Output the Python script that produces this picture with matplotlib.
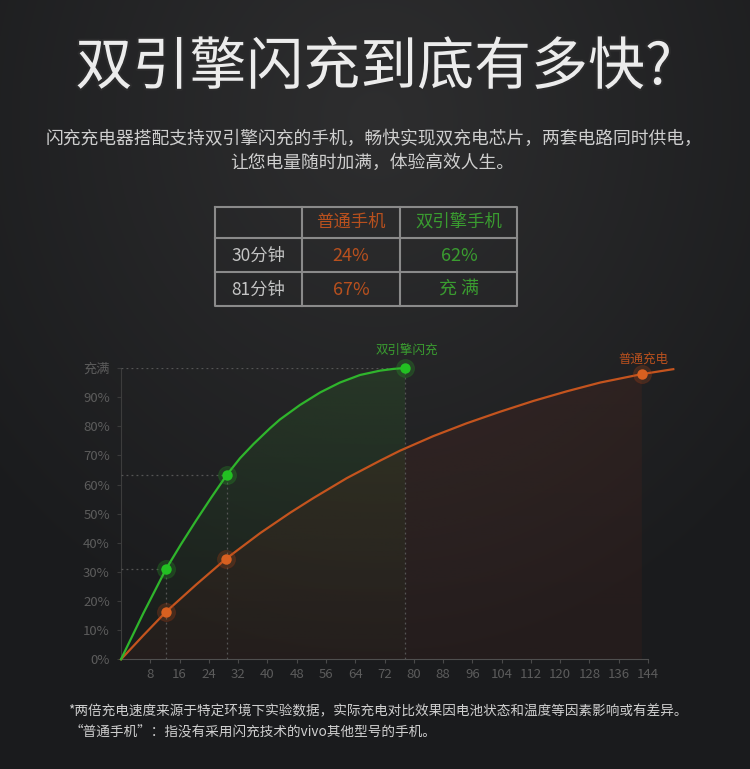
import numpy as np
import matplotlib
matplotlib.use("Agg")
import matplotlib.pyplot as plt
import matplotlib.patheffects as pe
from matplotlib.colors import to_rgb

plt.rcParams['font.family'] = ['Noto Sans CJK SC', 'DejaVu Sans']

# charge curves (minutes, percent)
fast_min = [0, 6.1, 12.3, 16.4, 20.5, 24.7, 28.9, 32.5, 36.2, 40.7, 43.4, 48.9,
            54.4, 59.8, 65.3, 70.8, 74.5, 77.6]
fast_pct = [0, 15.8, 31.0, 39.5, 47.6, 55.6, 63.3, 69.0, 73.9, 79.3, 82.3, 87.3,
            91.6, 95.0, 97.6, 99.1, 99.7, 100]
normal_min = [0, 6.1, 12.3, 20.5, 28.7, 38.0, 46.2, 52.5, 61.7, 70.8, 76.2, 85.3,
              94.4, 103.6, 112.7, 121.8, 130.9, 142.3, 150.9]
normal_pct = [0, 8.2, 16.3, 25.6, 34.5, 43.3, 50.3, 55.3, 62.2, 68.2, 71.6, 76.6,
              81.0, 85.0, 88.7, 92.0, 95.0, 97.9, 99.6]

fast_pts_min = [12.3, 28.9, 77.6]
fast_pts_pct = [31.0, 63.3, 100]
normal_pts_min = [12.3, 28.7, 142.3]
normal_pts_pct = [16.3, 34.5, 97.9]

x_ticks = list(range(8, 145, 8))
y_ticks = [0, 10, 20, 30, 40, 50, 60, 70, 80, 90, 100]
y_labels = ['0%', '10%', '20%', '30%', '40%', '50%', '60%', '70%', '80%', '90%', '充满']

table_head = ['普通手机', '双引擎手机']
table_rows = ['30分钟', '81分钟']
table_normal = ['24%', '67%']
table_fast = ['62%', '充 满']

GREEN = '#2fb52c'
GREEN_TXT = '#3a9c30'
ORANGE = '#c4541e'
ORANGE_TXT = '#b8501e'
GRAY_TXT = '#cfcfcf'

fig = plt.figure(figsize=(7.5, 7.69), dpi=100)

# background with a soft light spot near the top
bg = fig.add_axes([0, 0, 1, 1])
yy, xx = np.mgrid[0:769, 0:750]
d = np.sqrt(((xx - 375) / 520.0) ** 2 + ((yy - 120) / 560.0) ** 2)
d = np.clip(d, 0, 1)
c_in = np.array(to_rgb('#2e2e2f'))
c_out = np.array(to_rgb('#1a1b1d'))
img = c_in[None, None, :] * (1 - d[..., None]) + c_out[None, None, :] * d[..., None]
bg.imshow(img, extent=[0, 750, 769, 0], aspect='auto')
bg.set_xlim(0, 750)
bg.set_ylim(769, 0)
bg.axis('off')

# title and intro text (thin the glyphs with a background-coloured stroke)
bg.text(374, 68, '双引擎闪充到底有多快?', color='#ececec', fontsize=41,
        ha='center', va='center',
        path_effects=[pe.withStroke(linewidth=3, foreground='#2b2b2c')])
bg.text(374, 139, '闪充充电器搭配支持双引擎闪充的手机，畅快实现双充电芯片，两套电路同时供电，',
        color=GRAY_TXT, fontsize=12.8, ha='center', va='center')
bg.text(372, 163, '让您电量随时加满，体验高效人生。',
        color=GRAY_TXT, fontsize=12.8, ha='center', va='center')

# comparison table
tl, tr, tt, tb = 215, 517, 207, 306
col_x = [302, 400]
row_y = [238, 272]
lc = '#8a8a8a'
bg.plot([tl, tr, tr, tl, tl], [tt, tt, tb, tb, tt], color=lc, lw=1.5)
for cx in col_x:
    bg.plot([cx, cx], [tt, tb], color=lc, lw=1.5)
for ry in row_y:
    bg.plot([tl, tr], [ry, ry], color=lc, lw=1.5)
bg.text(351, 222, table_head[0], color=ORANGE_TXT, fontsize=12.5, ha='center', va='center')
bg.text(459, 222, table_head[1], color=GREEN_TXT, fontsize=12.5, ha='center', va='center')
for i, yc in enumerate([256, 290]):
    bg.text(258, yc, table_rows[i], color='#c4c4c4', fontsize=12.5, ha='center', va='center')
    bg.text(351, yc, table_normal[i], color=ORANGE_TXT, fontsize=13, ha='center', va='center')
    bg.text(459, yc, table_fast[i], color=GREEN_TXT, fontsize=13, ha='center', va='center')

# footnotes
bg.text(68, 711, '*两倍充电速度来源于特定环境下实验数据，实际充电对比效果因电池状态和温度等因素影响或有差异。',
        color=GRAY_TXT, fontsize=9.8, ha='left', va='center')
bg.text(70, 731, '“普通手机”：指没有采用闪充技术的vivo其他型号的手机。',
        color=GRAY_TXT, fontsize=9.8, ha='left', va='center')


def gradient_fill(ax, x, y, color, a_top, a_bot, z):
    poly = ax.fill_between(x, y, 0, facecolor='none', edgecolor='none')
    rgb = to_rgb(color)
    grad = np.zeros((100, 1, 4))
    grad[:, 0, :3] = rgb
    grad[:, 0, 3] = np.linspace(a_bot, a_top, 100)
    im = ax.imshow(grad, extent=[min(x), max(x), 0, max(y)], aspect='auto',
                   origin='lower', zorder=z)
    im.set_clip_path(poly.get_paths()[0], transform=ax.transData)


# chart
ax = fig.add_axes([121 / 750, 1 - 659.3 / 769, 152 * 3.66 / 750, 291.3 / 769])
ax.set_facecolor('none')

gradient_fill(ax, fast_min, fast_pct, '#2f7f2a', 0.20, 0.02, 1)
clip_n = [m for m in normal_min if m <= 142.3]
gradient_fill(ax, clip_n, normal_pct[:len(clip_n)], '#70281a', 0.17, 0.12, 2)

guide = dict(color='#555555', lw=0.9, ls=(0, (1.5, 2.5)), zorder=3)
for m, p in zip(fast_pts_min, fast_pts_pct):
    ax.plot([0, m], [p, p], **guide)
    ax.plot([m, m], [0, p], **guide)

ax.plot(normal_min, normal_pct, color=ORANGE, lw=1.6, zorder=4, clip_on=False,
        solid_joinstyle='round')
ax.plot(fast_min, fast_pct, color=GREEN, lw=1.6, zorder=5, clip_on=False,
        solid_joinstyle='round')

ax.plot(normal_pts_min, normal_pts_pct, 'o', ms=13, color=ORANGE, alpha=0.22,
        mec='#a03010', mew=0.8, zorder=6, clip_on=False)
ax.plot(normal_pts_min, normal_pts_pct, 'o', ms=7.5, color='#d86020', mec='none',
        zorder=7, clip_on=False)
ax.plot(fast_pts_min, fast_pts_pct, 'o', ms=13, color=GREEN, alpha=0.22,
        mec='#1f8a1f', mew=0.8, zorder=6, clip_on=False)
ax.plot(fast_pts_min, fast_pts_pct, 'o', ms=7.5, color='#22c022', mec='none',
        zorder=7, clip_on=False)

ax.text(fast_pts_min[-1] + 0.5, 106, '双引擎闪充', color=GREEN_TXT, fontsize=9,
        ha='center', va='center', clip_on=False)
ax.text(142.8, 103, '普通充电', color=ORANGE_TXT, fontsize=9,
        ha='center', va='center', clip_on=False)

ax.set_xlim(0, 152)
ax.set_ylim(0, 100)
ax.set_xticks(x_ticks)
ax.set_xticklabels([str(t) for t in x_ticks])
ax.set_yticks(y_ticks)
ax.set_yticklabels(y_labels)
ax.tick_params(axis='x', colors='#4a4a4a', labelcolor='#5c5c5c', labelsize=9.5,
               length=3, width=0.8, pad=3)
ax.tick_params(axis='y', colors='#3a3a3a', labelcolor='#5c5c5c', labelsize=9.5,
               length=3, width=0.8, pad=5)
for s in ['top', 'right']:
    ax.spines[s].set_visible(False)
ax.spines['bottom'].set_bounds(0, 144)
ax.spines['bottom'].set_color('#4f4f4f')
ax.spines['left'].set_color('#3c3c3c')

fig.savefig('out.png', dpi=100)
